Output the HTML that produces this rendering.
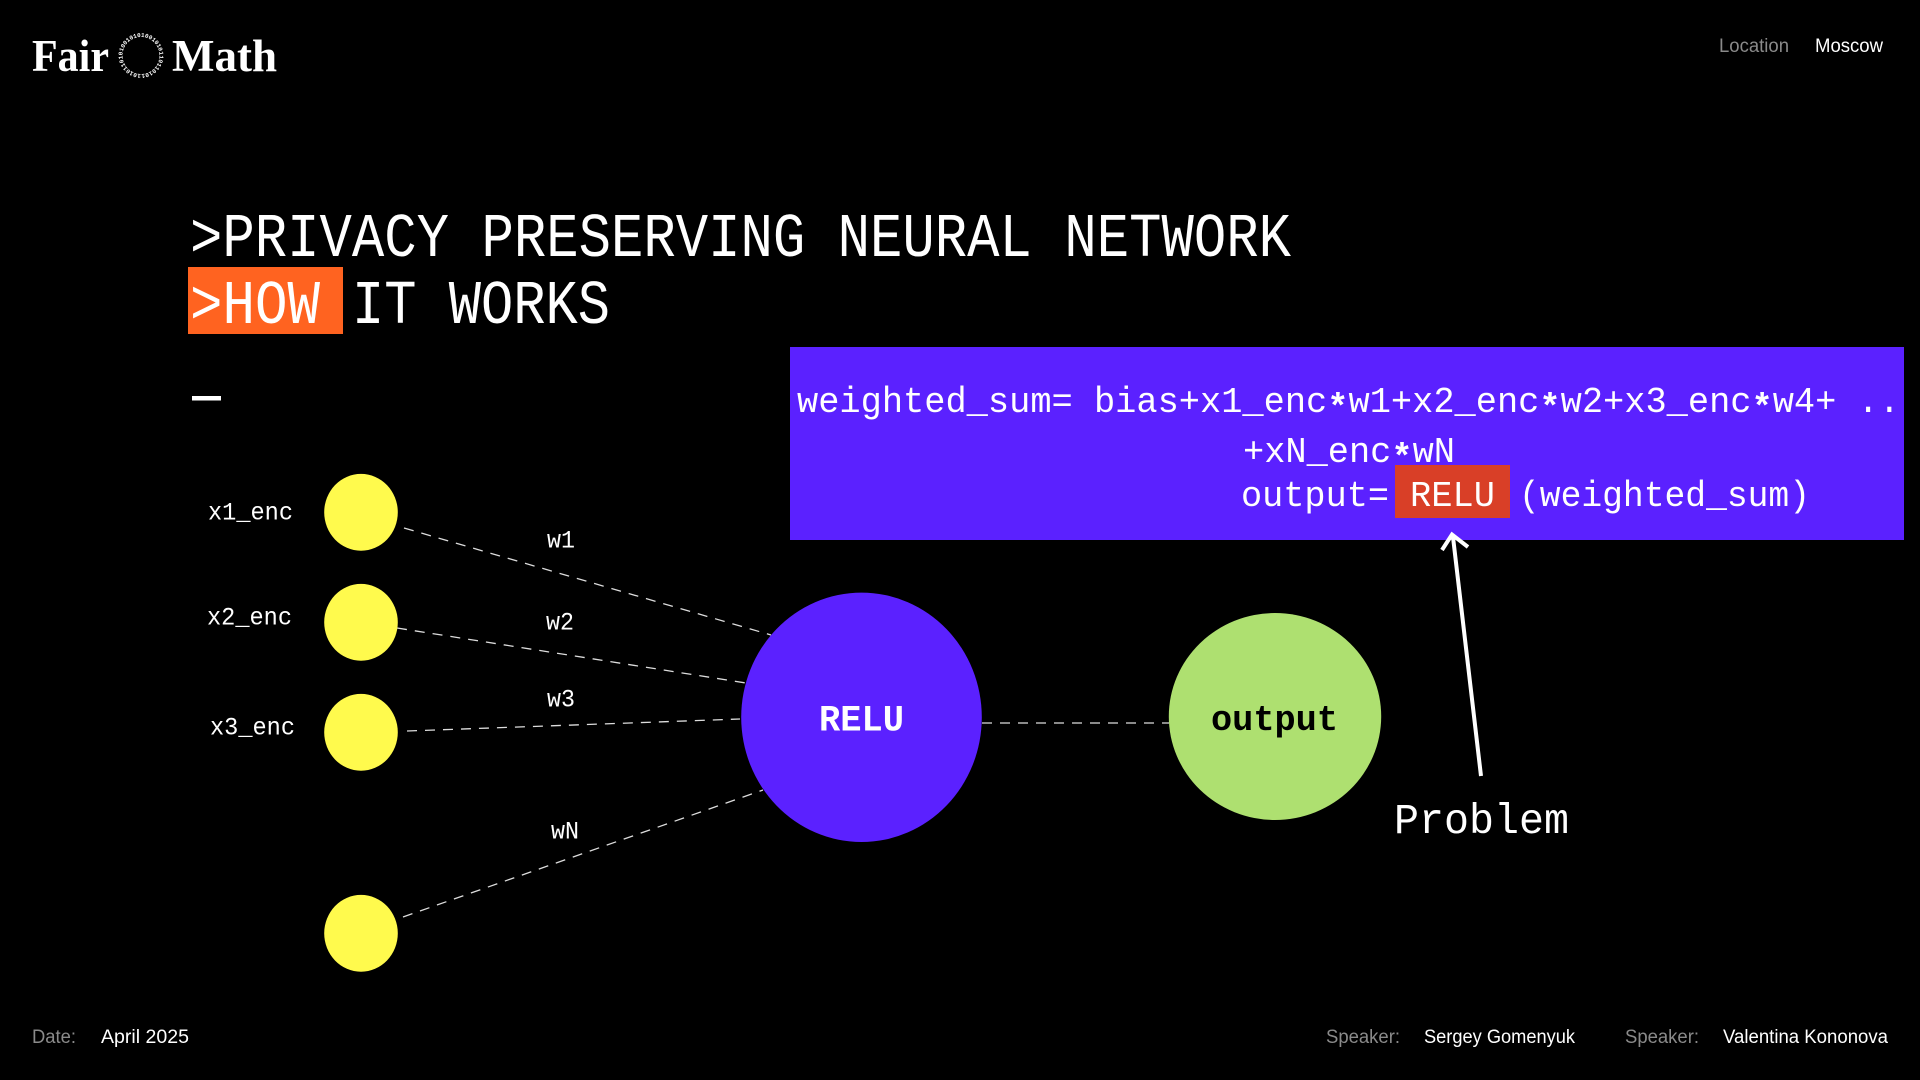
<!DOCTYPE html>
<html><head><meta charset="utf-8"><title>How it works</title>
<style>
html,body{margin:0;padding:0;background:#000;width:1920px;height:1080px;overflow:hidden}
svg{display:block}
.m{font-family:"Liberation Mono",monospace;fill:#fff}
.s{font-family:"Liberation Sans",sans-serif;fill:#fff;font-size:19px}
.g{fill:#8a8a8a}
.l{font-family:"Liberation Serif",serif;font-weight:700;font-size:45px;fill:#fff}
.d{stroke:#dddddd;stroke-width:1.3;stroke-dasharray:10 8;fill:none}
.a{font-weight:700}
</style></head><body>
<svg width="1920" height="1080" viewBox="0 0 1920 1080" xmlns="http://www.w3.org/2000/svg">
<rect width="1920" height="1080" fill="#000"/>
<text class="l" x="32" y="71" textLength="77" lengthAdjust="spacingAndGlyphs">Fair</text>
<text class="l" x="172" y="71" textLength="105" lengthAdjust="spacingAndGlyphs">Math</text>
<defs><path id="ring" d="M141 74a18.5 18.5 0 1 1 .01 0"/></defs>
<text font-family="Liberation Mono,monospace" font-weight="700" font-size="6" fill="#fff"><textPath href="#ring">10101101010010101001010110110101</textPath></text>
<text class="s g" x="1719" y="52" textLength="70" lengthAdjust="spacingAndGlyphs">Location</text>
<text class="s" x="1815" y="52" textLength="68" lengthAdjust="spacingAndGlyphs">Moscow</text>

<rect x="188" y="267" width="155" height="67" fill="#ff6320"/>
<text class="m" font-size="62" x="190" y="256" textLength="1101" lengthAdjust="spacingAndGlyphs">&gt;PRIVACY PRESERVING NEURAL NETWORK</text>
<text class="m" font-size="62" x="190" y="323" textLength="130" lengthAdjust="spacingAndGlyphs">&gt;HOW</text>
<text class="m" font-size="62" x="352" y="323" textLength="258" lengthAdjust="spacingAndGlyphs">IT WORKS</text>
<rect x="192" y="396" width="29" height="4.5" fill="#fff"/>

<rect x="790" y="347" width="1114" height="193" fill="#5b21ff"/>
<rect x="1395" y="465" width="115" height="53" fill="#d93f27"/>
<text class="m" font-size="36" x="797" y="412" textLength="1103" lengthAdjust="spacingAndGlyphs">weighted_sum= bias+x1_enc<tspan class="a" dy="6">*</tspan><tspan dy="-6">w1+x2_enc</tspan><tspan class="a" dy="6">*</tspan><tspan dy="-6">w2+x3_enc</tspan><tspan class="a" dy="6">*</tspan><tspan dy="-6">w4+ ..</tspan></text>
<text class="m" font-size="36" x="1243" y="462" textLength="212" lengthAdjust="spacingAndGlyphs">+xN_enc<tspan class="a" dy="6">*</tspan><tspan dy="-6">wN</tspan></text>
<text class="m" font-size="36" x="1241" y="506" textLength="148" lengthAdjust="spacingAndGlyphs">output=</text>
<text class="m" font-size="36" x="1410" y="506" textLength="85" lengthAdjust="spacingAndGlyphs">RELU</text>
<text class="m" font-size="36" x="1519" y="506" textLength="291" lengthAdjust="spacingAndGlyphs">(weighted_sum)</text>

<line class="d" x1="404" y1="528" x2="771" y2="635"/>
<line class="d" x1="397" y1="628" x2="746" y2="683"/>
<line class="d" x1="407" y1="731" x2="740" y2="719"/>
<line class="d" x1="403" y1="917" x2="763" y2="790"/>
<line class="d" x1="982" y1="723" x2="1169" y2="723"/>

<ellipse cx="361" cy="512.3" rx="36.8" ry="38.4" fill="#fffa4d"/>
<ellipse cx="361" cy="622.3" rx="36.8" ry="38.4" fill="#fffa4d"/>
<ellipse cx="361" cy="732.3" rx="36.8" ry="38.4" fill="#fffa4d"/>
<ellipse cx="361" cy="933.3" rx="36.8" ry="38.4" fill="#fffa4d"/>
<ellipse cx="861.5" cy="717.3" rx="120.3" ry="124.7" fill="#5b21ff"/>
<ellipse cx="1275" cy="716.5" rx="106.2" ry="103.5" fill="#aee070"/>

<text class="m" font-size="25" x="208" y="519.5" textLength="85" lengthAdjust="spacingAndGlyphs">x1_enc</text>
<text class="m" font-size="25" x="207" y="624.5" textLength="85" lengthAdjust="spacingAndGlyphs">x2_enc</text>
<text class="m" font-size="25" x="210" y="734.5" textLength="85" lengthAdjust="spacingAndGlyphs">x3_enc</text>
<text class="m" font-size="25" x="547" y="547.5" textLength="28" lengthAdjust="spacingAndGlyphs">w1</text>
<text class="m" font-size="25" x="546" y="629.5" textLength="28" lengthAdjust="spacingAndGlyphs">w2</text>
<text class="m" font-size="25" x="547" y="706.5" textLength="28" lengthAdjust="spacingAndGlyphs">w3</text>
<text class="m" font-size="25" x="551" y="838.5" textLength="28" lengthAdjust="spacingAndGlyphs">wN</text>
<text class="m" font-size="37" font-weight="700" x="819" y="730.5" textLength="85" lengthAdjust="spacingAndGlyphs">RELU</text>
<text class="m" font-size="36" font-weight="700" x="1211" y="730" textLength="127" lengthAdjust="spacingAndGlyphs" style="fill:#000">output</text>
<text class="m" font-size="43" x="1394" y="833" textLength="175" lengthAdjust="spacingAndGlyphs">Problem</text>

<path d="M1481 776L1453 537M1442 550L1452 534.5L1468 547" fill="none" stroke="#fff" stroke-width="4"/>

<text class="s g" x="32" y="1043" textLength="44" lengthAdjust="spacingAndGlyphs">Date:</text>
<text class="s" x="101" y="1043" textLength="88" lengthAdjust="spacingAndGlyphs">April 2025</text>
<text class="s g" x="1326" y="1043" textLength="74" lengthAdjust="spacingAndGlyphs">Speaker:</text>
<text class="s" x="1424" y="1043" textLength="151" lengthAdjust="spacingAndGlyphs">Sergey Gomenyuk</text>
<text class="s g" x="1625" y="1043" textLength="74" lengthAdjust="spacingAndGlyphs">Speaker:</text>
<text class="s" x="1723" y="1043" textLength="165" lengthAdjust="spacingAndGlyphs">Valentina Kononova</text>
</svg>
</body></html>
